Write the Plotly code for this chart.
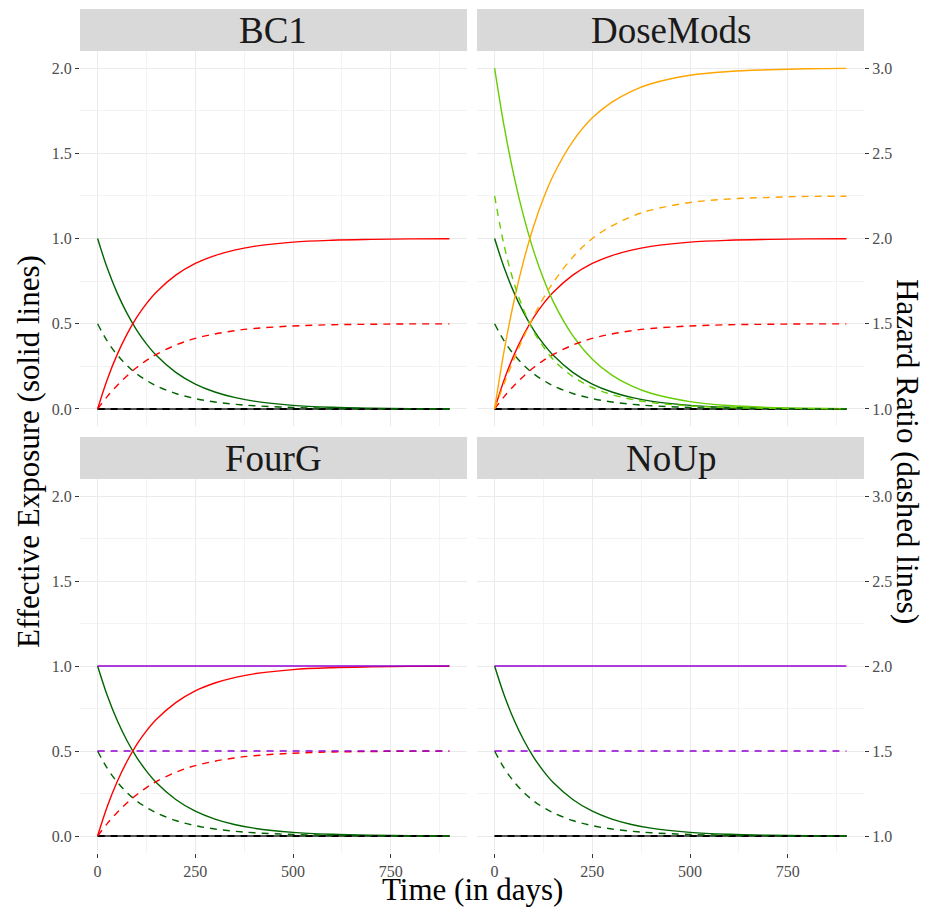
import plotly.graph_objects as go

# ---------------- data ----------------
panels = ["BC1", "DoseMods", "FourG", "NoUp"]

days = [0, 25, 50, 75, 100, 125, 150, 200, 250, 300, 350, 400, 500, 600, 700, 800, 900]

# effective exposure (solid lines, left axis)
exposure_rise = [0.0, 0.175, 0.319, 0.438, 0.537, 0.618, 0.685, 0.785, 0.854, 0.900,
                 0.932, 0.954, 0.979, 0.990, 0.995, 0.998, 0.999]
exposure_decay = [1.0, 0.825, 0.681, 0.562, 0.463, 0.382, 0.315, 0.215, 0.146, 0.0995,
                  0.0677, 0.0461, 0.0214, 0.0099, 0.0046, 0.0021, 0.0010]
exposure_rise_high = [0.0, 0.350, 0.638, 0.876, 1.074, 1.236, 1.370, 1.570, 1.708, 1.800,
                      1.864, 1.908, 1.958, 1.980, 1.990, 1.996, 1.998]
exposure_decay_high = [2.0, 1.650, 1.362, 1.124, 0.926, 0.764, 0.630, 0.430, 0.292, 0.199,
                       0.135, 0.092, 0.043, 0.020, 0.009, 0.004, 0.002]
exposure_flat = [1.0] * len(days)
exposure_zero = [0.0] * len(days)

# hazard ratio (dashed lines, right axis)
hr_rise = [1.000, 1.074, 1.138, 1.194, 1.243, 1.285, 1.320, 1.375, 1.414, 1.440,
           1.459, 1.472, 1.487, 1.494, 1.497, 1.499, 1.499]
hr_decay = [1.500, 1.397, 1.318, 1.256, 1.206, 1.168, 1.136, 1.091, 1.061, 1.041,
            1.028, 1.019, 1.009, 1.004, 1.002, 1.001, 1.000]
hr_rise_high = [1.000, 1.153, 1.295, 1.426, 1.545, 1.651, 1.742, 1.891, 2.000, 2.074,
                2.129, 2.167, 2.211, 2.232, 2.241, 2.247, 2.248]
hr_decay_high = [2.250, 1.952, 1.737, 1.578, 1.454, 1.364, 1.290, 1.190, 1.126, 1.084,
                 1.057, 1.038, 1.018, 1.008, 1.004, 1.002, 1.000]
hr_flat = [1.5] * len(days)
hr_zero = [1.0] * len(days)

x_ticks = [0, 250, 500, 750]
exposure_ticks = [0.0, 0.5, 1.0, 1.5, 2.0]
hr_ticks = [1.0, 1.5, 2.0, 2.5, 3.0]

series = {
    "zero": (exposure_zero, hr_zero),
    "decay": (exposure_decay, hr_decay),
    "rise": (exposure_rise, hr_rise),
    "flat": (exposure_flat, hr_flat),
    "decay_high": (exposure_decay_high, hr_decay_high),
    "rise_high": (exposure_rise_high, hr_rise_high),
}
panel_series = {
    "BC1": ["zero", "decay", "rise"],
    "DoseMods": ["zero", "decay", "rise", "decay_high", "rise_high"],
    "FourG": ["zero", "decay", "rise", "flat"],
    "NoUp": ["zero", "decay", "flat"],
}

# ---------------- styles ----------------
colors = {
    "zero": "#000000",
    "decay": "#006400",
    "rise": "#FF0000",
    "flat": "#9400D3",
    "decay_high": "#66CD00",
    "rise_high": "#FFA500",
}
FONT = "Liberation Serif"
TICK_FONT = dict(family=FONT, size=16, color="#4D4D4D")
GRID = "#EBEBEB"
MINOR_GRID = "#F3F3F3"
DASH = "7px,6px"

xdom = [[0, 0.4936], [0.5064, 1.0], [0, 0.4936], [0.5064, 1.0]]
ydom = [[0.5059, 0.9502], [0.5059, 0.9502], [0, 0.4431], [0, 0.4431]]
strip_y = [[0.9502, 1.0], [0.9502, 1.0], [0.4431, 0.4929], [0.4431, 0.4929]]

fig = go.Figure()
layout = {}
shapes = []
annotations = []

for i, name in enumerate(panels):
    n = i + 1
    xa = "x" if n == 1 else f"x{n}"
    ya = "y" if n == 1 else f"y{n}"
    ya2 = f"y{n + 4}"
    for key in panel_series[name]:
        exp_vals, hr_vals = series[key]
        solid_color = "#555555" if key == "zero" else colors[key]
        w = 2.0 if key == "zero" else 1.4
        fig.add_trace(go.Scatter(
            x=days, y=exp_vals, xaxis=xa, yaxis=ya, mode="lines",
            line=dict(color=solid_color, width=w, shape="spline"),
            hoverinfo="skip", showlegend=False))
        fig.add_trace(go.Scatter(
            x=days, y=hr_vals, xaxis=xa, yaxis=ya2, mode="lines",
            line=dict(color=colors[key], width=w, dash=DASH, shape="spline"),
            hoverinfo="skip", showlegend=False))

    bottom = n in (3, 4)
    left = n in (1, 3)
    right = n in (2, 4)

    layout[f"xaxis{n}"] = dict(
        domain=xdom[i], anchor=ya, range=[-45, 945],
        tickvals=x_ticks, showticklabels=bottom,
        ticks="outside" if bottom else "", ticklen=4, tickwidth=1, tickcolor="#333333",
        showgrid=True, gridcolor=GRID, gridwidth=1,
        minor=dict(dtick=125, tick0=0, showgrid=True, gridcolor=MINOR_GRID, gridwidth=1),
        zeroline=False, showline=False, tickfont=TICK_FONT, automargin=False)
    layout[f"yaxis{n}"] = dict(
        domain=ydom[i], anchor=xa, range=[-0.1, 2.1],
        tickvals=exposure_ticks, tickformat=".1f", showticklabels=left,
        ticks="outside" if left else "", ticklen=4, tickwidth=1, tickcolor="#333333",
        showgrid=True, gridcolor=GRID, gridwidth=1,
        minor=dict(dtick=0.25, tick0=0, showgrid=True, gridcolor=MINOR_GRID, gridwidth=1),
        zeroline=False, showline=False, tickfont=TICK_FONT, automargin=False)
    layout[f"yaxis{n + 4}"] = dict(
        overlaying=ya, anchor=xa, side="right", range=[0.9, 3.1],
        tickvals=hr_ticks, tickformat=".1f", showticklabels=right,
        ticks="outside" if right else "", ticklen=4, tickwidth=1, tickcolor="#333333",
        showgrid=False, zeroline=False, showline=False, tickfont=TICK_FONT, automargin=False)

    shapes.append(dict(type="rect", xref="paper", yref="paper",
                       x0=xdom[i][0], x1=xdom[i][1], y0=strip_y[i][0], y1=strip_y[i][1],
                       fillcolor="#D9D9D9", line=dict(width=0), layer="below"))
    annotations.append(dict(text=name, xref="paper", yref="paper",
                            x=(xdom[i][0] + xdom[i][1]) / 2,
                            y=(strip_y[i][0] + strip_y[i][1]) / 2,
                            xanchor="center", yanchor="middle", showarrow=False,
                            font=dict(family=FONT, size=37, color="#1A1A1A")))

annotations += [
    dict(text="Effective Exposure (solid lines)", xref="paper", yref="paper",
         x=-0.0663, y=0.4751, textangle=-90, showarrow=False,
         xanchor="center", yanchor="middle", font=dict(family=FONT, size=31, color="#000000")),
    dict(text="Hazard Ratio (dashed lines)", xref="paper", yref="paper",
         x=1.0561, y=0.4751, textangle=90, showarrow=False,
         xanchor="center", yanchor="middle", font=dict(family=FONT, size=31, color="#000000")),
    dict(text="Time (in days)", xref="paper", yref="paper",
         x=0.5, y=-0.0438, showarrow=False,
         xanchor="center", yanchor="middle", font=dict(family=FONT, size=31, color="#000000")),
]

# the page body adds an 8px offset, so the figure is drawn 8px smaller and shifted
fig.update_layout(
    width=920, height=901,
    margin=dict(l=72, r=64, t=1, b=56),
    paper_bgcolor="white", plot_bgcolor="white",
    showlegend=False, shapes=shapes, annotations=annotations,
    font=dict(family=FONT),
    **layout)

fig.write_html("out.html")
